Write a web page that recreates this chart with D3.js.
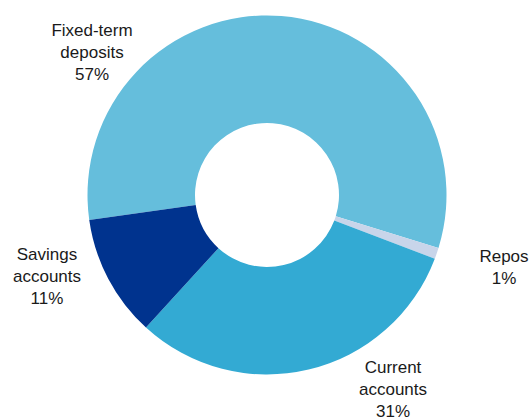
<!DOCTYPE html>
<html>
<head>
<meta charset="utf-8">
<script src="https://cdn.jsdelivr.net/npm/d3@7"></script>
<style>
  html, body { margin: 0; padding: 0; background: #ffffff; }
  svg { display: block; }
  text { font-family: "Liberation Sans", Arial, sans-serif; font-size: 17px; fill: #1a1a1a; }
</style>
</head>
<body>
<svg id="chart" width="531" height="418"></svg>
<script>
// Deposit composition, in percent
const categories = ["Fixed-term deposits", "Repos", "Current accounts", "Savings accounts"];
const shares = [57, 1, 31, 11];
const labelLines = [["Fixed-term", "deposits"], ["Repos"], ["Current", "accounts"], ["Savings", "accounts"]];

const colors = d3.scaleOrdinal()
  .domain(categories)
  .range(["#65bedc", "#c8d5ea", "#33aad3", "#00338e"]);

const width = 531, height = 418;
const cx = 267, cy = 195;
const outerR = 179.5, innerR = 72;
const start = 262 * Math.PI / 180;

const svg = d3.select("#chart");
const g = svg.append("g").attr("transform", `translate(${cx},${cy})`);

const pie = d3.pie()
  .sort(null)
  .value(d => d.value)
  .startAngle(start)
  .endAngle(start + 2 * Math.PI);

const arc = d3.arc().innerRadius(innerR).outerRadius(outerR);

const data = categories.map((c, i) => ({ name: c, value: shares[i], lines: labelLines[i] }));

g.selectAll("path.slice")
  .data(pie(data))
  .join("path")
  .attr("class", "slice")
  .attr("d", arc)
  .attr("fill", d => colors(d.data.name));

// label anchors: centre x and first baseline, in page coordinates
const labelAnchor = {
  "Fixed-term deposits": [92, 36],
  "Repos": [504, 262],
  "Current accounts": [393, 373],
  "Savings accounts": [47, 260]
};
const lineH = 22;

const labels = svg.selectAll("text.lbl")
  .data(data)
  .join("text")
  .attr("class", "lbl")
  .attr("text-anchor", "middle")
  .attr("x", d => labelAnchor[d.name][0])
  .attr("y", d => labelAnchor[d.name][1]);

labels.each(function(d) {
  const t = d3.select(this);
  const [x] = labelAnchor[d.name];
  d.lines.concat([d.value + "%"]).forEach((line, i) => {
    t.append("tspan")
      .attr("x", x)
      .attr("dy", i === 0 ? 0 : lineH)
      .text(line);
  });
});
</script>
</body>
</html>
